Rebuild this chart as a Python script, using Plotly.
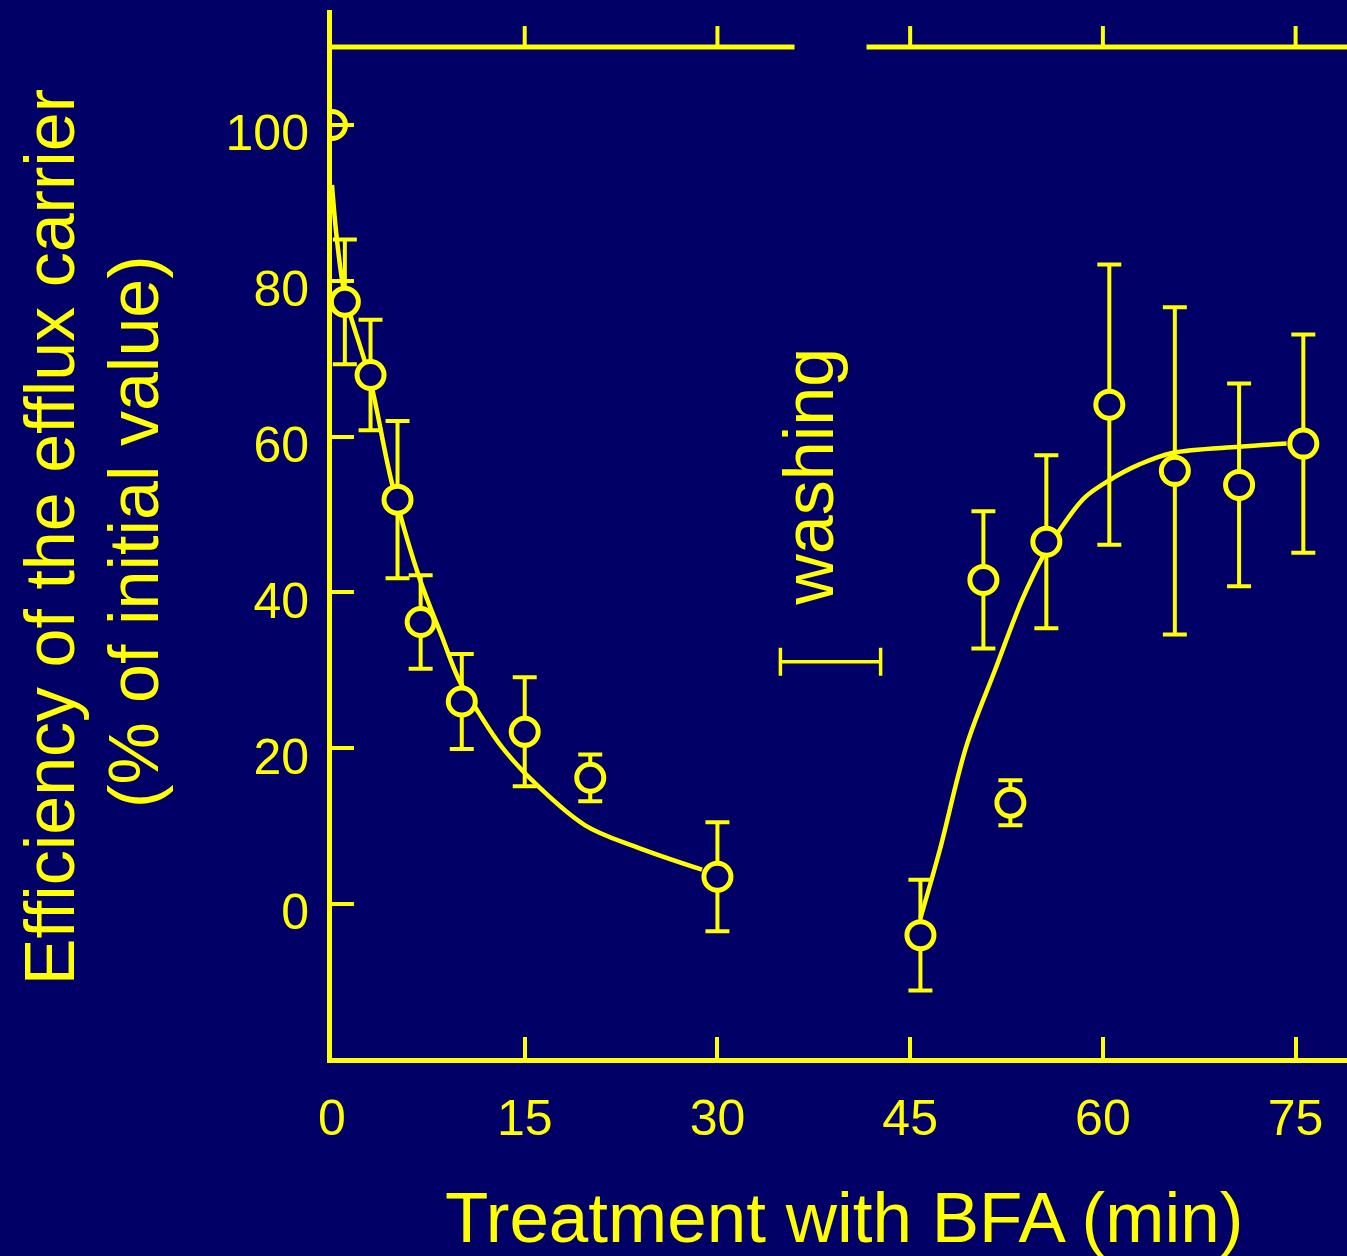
import plotly.graph_objects as go

# ---- data ----
time_min = [0, 1.0, 3.0, 5.1, 6.9, 10.1, 15.0, 20.1, 30.0, 45.8, 50.7, 52.8, 55.6, 60.5, 65.6, 70.6, 75.6]
efficiency = [100, 77.3, 67.9, 51.9, 36.2, 26.0, 22.1, 16.2, 3.5, -4.0, 41.6, 13.0, 46.5, 64.1, 55.6, 53.8, 59.1]
error = [0, 8.0, 7.1, 10.1, 6.0, 6.1, 7.0, 3.0, 7.0, 7.1, 8.8, 2.9, 11.1, 18.0, 21.0, 13.0, 14.0]

fit1_x = [0, 0.39, 1.0, 2.96, 4.67, 6.77, 8.56, 9.88, 11.44, 13.2, 15.8, 19.7, 23.7, 28.8]
fit1_y = [92.3, 85.2, 78.2, 67.3, 54.0, 42.0, 34.3, 28.8, 24.5, 20.2, 15.5, 10.1, 7.3, 4.4]
fit2_x = [45.8, 47.3, 49.4, 51.6, 53.7, 55.3, 56.8, 58.6, 60.5, 62.8, 65.4, 70.6, 74.3]
fit2_y = [-1.8, 6.9, 20.4, 30.0, 39.0, 44.5, 48.4, 52.2, 54.4, 56.4, 57.9, 58.7, 59.1]

washing_x = 38.8
washing_half = 3.9
washing_y = 31.1

x_ticks = [0, 15, 30, 45, 60, 75]
y_ticks = [0, 20, 40, 60, 80, 100]
top_ticks = [15, 30, 45, 60, 75]
top_axis_y = 110.0
top_gap = (36.0, 41.6)

BG = "#000066"
YEL = "#FFFF00"
FONT = "Arial, Liberation Sans, sans-serif"

fig = go.Figure()

# fitted curves
for fx, fy in [(fit1_x, fit1_y), (fit2_x, fit2_y)]:
    fig.add_trace(go.Scatter(x=fx, y=fy, mode="lines",
                             line=dict(color=YEL, width=4.5, shape="spline", smoothing=1.0),
                             hoverinfo="skip", showlegend=False))

# error bars (only where an error was drawn)
eb = [(t, v, e) for t, v, e in zip(time_min, efficiency, error) if e > 0]
fig.add_trace(go.Scatter(x=[p[0] for p in eb], y=[p[1] for p in eb], mode="markers",
                         marker=dict(size=1, color="rgba(0,0,0,0)"),
                         error_y=dict(type="data", array=[p[2] for p in eb], visible=True,
                                      color=YEL, thickness=4, width=12),
                         showlegend=False))
# open circles
fig.add_trace(go.Scatter(x=time_min, y=efficiency, mode="markers",
                         marker=dict(symbol="circle", size=27, color=BG,
                                     line=dict(color=YEL, width=5)),
                         showlegend=False))

# washing interval bar
fig.add_trace(go.Scatter(x=[washing_x], y=[washing_y], mode="markers",
                         marker=dict(size=1, color="rgba(0,0,0,0)"),
                         error_x=dict(type="constant", value=washing_half, visible=True,
                                      color=YEL, thickness=3.5, width=14),
                         showlegend=False))

shapes = []
# top axis line with a gap
shapes.append(dict(type="line", xref="x", yref="y", x0=0, x1=top_gap[0],
                   y0=top_axis_y, y1=top_axis_y, line=dict(color=YEL, width=5)))
shapes.append(dict(type="line", xref="x", yref="y", x0=top_gap[1], x1=80,
                   y0=top_axis_y, y1=top_axis_y, line=dict(color=YEL, width=5)))
for t in top_ticks:
    shapes.append(dict(type="line", xref="x", yref="y", x0=t, x1=t,
                       y0=top_axis_y, y1=top_axis_y + 2.7, line=dict(color=YEL, width=4)))

fig.update_layout(
    width=1347, height=1256,
    paper_bgcolor=BG, plot_bgcolor=BG,
    margin=dict(l=332, r=0, t=10, b=198),
    showlegend=False,
    shapes=shapes,
    font=dict(family=FONT, color=YEL),
    xaxis=dict(range=[0, 79.0], tickvals=x_ticks, ticktext=[str(v) for v in x_ticks],
               showline=True, linecolor=YEL, linewidth=5, mirror=False,
               ticks="inside", ticklen=21, tickwidth=4, tickcolor=YEL,
               showgrid=False, zeroline=False, ticklabelstandoff=12,
               tickfont=dict(size=50, color=YEL, family=FONT)),
    yaxis=dict(range=[-19.77, 114.76], tickvals=y_ticks, ticktext=[str(v) for v in y_ticks],
               showline=True, linecolor=YEL, linewidth=5,
               ticks="inside", ticklen=22, tickwidth=4, tickcolor=YEL,
               showgrid=False, zeroline=False, ticklabelstandoff=8, ticklabelshift=8,
               tickfont=dict(size=50, color=YEL, family=FONT)),
    annotations=[
        dict(text="Efficiency of the efflux carrier", xref="paper", yref="paper",
             x=-0.2778, y=0.497, xanchor="center", yanchor="middle", textangle=-90,
             showarrow=False, font=dict(size=70, color=YEL, family=FONT)),
        dict(text="(% of initial value)", xref="paper", yref="paper",
             x=-0.1951, y=0.502, xanchor="center", yanchor="middle", textangle=-90,
             showarrow=False, font=dict(size=70, color=YEL, family=FONT)),
        dict(text="Treatment with BFA (min)", xref="paper", yref="paper",
             x=0.5045, y=-0.1525, xanchor="center", yanchor="middle",
             showarrow=False, font=dict(size=71, color=YEL, family=FONT)),
        dict(text="washing", xref="x", yref="y", x=37.1, y=54.8,
             xanchor="center", yanchor="middle", textangle=-90,
             showarrow=False, font=dict(size=70, color=YEL, family=FONT)),
    ],
)

fig.write_html("out.html",
               config={"displayModeBar": False},
               post_script="document.body.style.margin='0';document.body.style.padding='0';"
                           "document.documentElement.style.background='#000066';")
